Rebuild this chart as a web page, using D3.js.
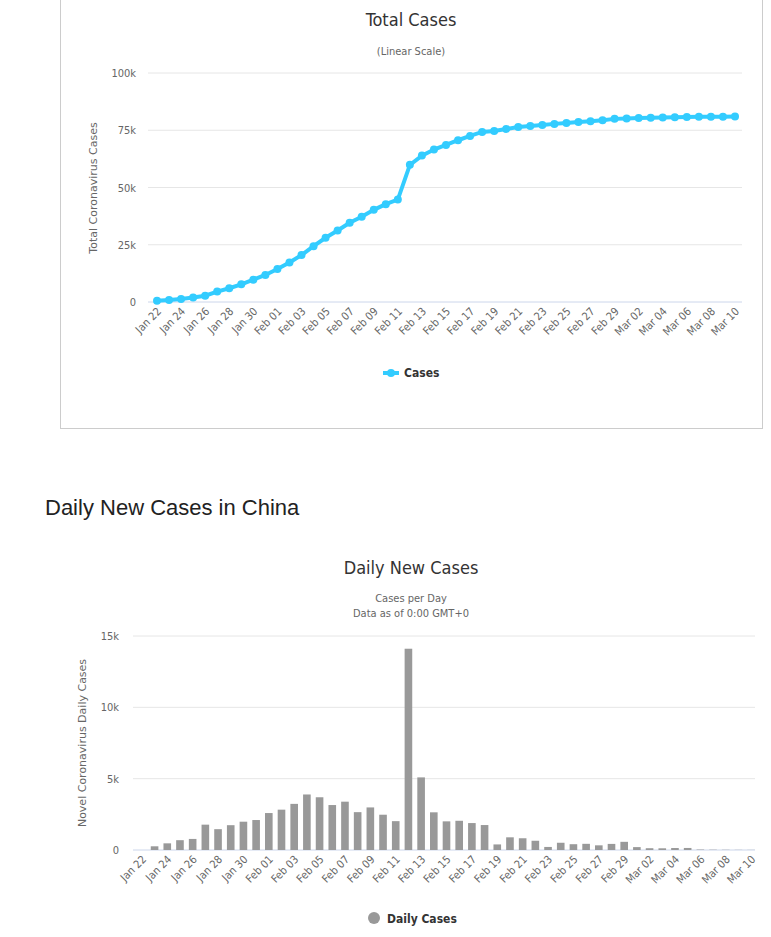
<!DOCTYPE html>
<html><head><meta charset="utf-8">
<script src="https://cdn.jsdelivr.net/npm/d3@7"></script>
<style>
body{margin:0;background:#fff;font-family:"DejaVu Sans Condensed","DejaVu Sans",sans-serif;}
</style></head><body>
<svg id="chart" width="771" height="937"></svg>
<script>
const dates = ["Jan 22","Jan 23","Jan 24","Jan 25","Jan 26","Jan 27","Jan 28","Jan 29","Jan 30","Jan 31",
"Feb 01","Feb 02","Feb 03","Feb 04","Feb 05","Feb 06","Feb 07","Feb 08","Feb 09","Feb 10","Feb 11","Feb 12","Feb 13","Feb 14","Feb 15","Feb 16","Feb 17","Feb 18","Feb 19","Feb 20","Feb 21","Feb 22","Feb 23","Feb 24","Feb 25","Feb 26","Feb 27","Feb 28","Feb 29",
"Mar 01","Mar 02","Mar 03","Mar 04","Mar 05","Mar 06","Mar 07","Mar 08","Mar 09","Mar 10"];
const totalCases = [571,830,1297,1985,2761,4537,5997,7736,9720,11821,14411,17238,20471,24363,28060,31211,34598,37251,40235,42708,44730,59882,63932,66576,68584,70635,72528,74279,74675,75569,76392,76846,77262,77780,78191,78630,78959,79389,79968,80174,80302,80422,80565,80710,80813,80859,80904,80924,80955];
const dailyCases = [0,259,467,688,776,1776,1460,1739,1984,2101,2590,2827,3233,3892,3697,3151,3387,2653,2984,2473,2022,14108,5090,2641,2008,2048,1888,1749,391,889,823,648,214,508,406,433,327,427,573,202,125,119,139,143,30,20,15,10,8];
const totalTicks = [0,25000,50000,75000,100000];
const dailyTicks = [0,5000,10000,15000];

const svg = d3.select("#chart");
const kfmt = v => v === 0 ? "0" : (v/1000) + "k";
const tickDates = dates.filter((d,i) => i % 2 === 0);

function xLabels(g, scale, y, offset) {
  g.selectAll(".xl").data(tickDates).enter().append("text")
    .attr("transform", d => `translate(${scale(d) + offset + 5},${y}) rotate(-45)`)
    .attr("text-anchor", "end").attr("font-size", 11).attr("fill", "#666").text(d => d);
}

// ---- Top chart: total cases
svg.append("rect").attr("x", 60.5).attr("y", -1).attr("width", 702).attr("height", 429.5)
  .attr("fill", "none").attr("stroke", "#ccc");
const topG = svg.append("g");
const x1 = d3.scalePoint().domain(dates).range([157, 735]);
const y1 = d3.scaleLinear().domain([0, 100000]).range([302, 73]);
topG.selectAll(".g").data(totalTicks).enter().append("line")
  .attr("x1", 148).attr("x2", 742).attr("y1", d => y1(d)).attr("y2", d => y1(d))
  .attr("stroke", d => d === 0 ? "#ccd6eb" : "#e6e6e6");
topG.selectAll(".yl").data(totalTicks).enter().append("text")
  .attr("x", 136).attr("y", d => y1(d) + 4).attr("text-anchor", "end")
  .attr("font-size", 11).attr("fill", "#666").text(kfmt);
topG.append("text").attr("x", 411).attr("y", 26).attr("text-anchor", "middle")
  .attr("font-size", 18).attr("fill", "#333").text("Total Cases");
topG.append("text").attr("x", 411).attr("y", 55).attr("text-anchor", "middle")
  .attr("font-size", 11).attr("fill", "#666").text("(Linear Scale)");
topG.append("text").attr("transform", "translate(97,188) rotate(-90)").attr("text-anchor", "middle")
  .attr("font-size", 11).attr("fill", "#666").attr("font-family", "DejaVu Sans").text("Total Coronavirus Cases");
xLabels(topG, x1, 312, 0);
topG.append("path").datum(totalCases)
  .attr("d", d3.line().x((d,i) => x1(dates[i])).y(d => y1(d)))
  .attr("fill", "none").attr("stroke", "#33ccff").attr("stroke-width", 4);
topG.selectAll(".pt").data(totalCases).enter().append("circle")
  .attr("cx", (d,i) => x1(dates[i])).attr("cy", d => y1(d)).attr("r", 4).attr("fill", "#33ccff");
topG.append("line").attr("x1", 383).attr("x2", 399).attr("y1", 373).attr("y2", 373)
  .attr("stroke", "#33ccff").attr("stroke-width", 4);
topG.append("circle").attr("cx", 391).attr("cy", 373).attr("r", 4).attr("fill", "#33ccff");
topG.append("text").attr("x", 404).attr("y", 377).attr("font-size", 12).attr("font-weight", "bold")
  .attr("fill", "#333").text("Cases");

// ---- Heading
svg.append("text").attr("x", 45).attr("y", 515).attr("font-family", "Liberation Sans, Arial")
  .attr("font-size", 22).attr("fill", "#222").text("Daily New Cases in China");

// ---- Bottom chart: daily cases
const botG = svg.append("g");
const x2 = d3.scaleBand().domain(dates).range([133, 760]).padding(0.4);
const y2 = d3.scaleLinear().domain([0, 15000]).range([850, 636]);
botG.selectAll(".g").data(dailyTicks).enter().append("line")
  .attr("x1", 133).attr("x2", 755).attr("y1", d => y2(d)).attr("y2", d => y2(d))
  .attr("stroke", d => d === 0 ? "#ccd6eb" : "#e6e6e6");
botG.selectAll(".yl").data(dailyTicks).enter().append("text")
  .attr("x", 119).attr("y", d => y2(d) + 4).attr("text-anchor", "end")
  .attr("font-size", 11).attr("fill", "#666").text(kfmt);
botG.append("text").attr("x", 411).attr("y", 574).attr("text-anchor", "middle")
  .attr("font-size", 18).attr("fill", "#333").text("Daily New Cases");
botG.append("text").attr("x", 411).attr("y", 602).attr("text-anchor", "middle")
  .attr("font-size", 11).attr("fill", "#666").text("Cases per Day");
botG.append("text").attr("x", 411).attr("y", 617).attr("text-anchor", "middle")
  .attr("font-size", 11).attr("fill", "#666").text("Data as of 0:00 GMT+0");
botG.append("text").attr("transform", "translate(86,743) rotate(-90)").attr("text-anchor", "middle")
  .attr("font-size", 11).attr("fill", "#666").attr("font-family", "DejaVu Sans").text("Novel Coronavirus Daily Cases");
botG.selectAll(".bar").data(dailyCases).enter().append("rect")
  .attr("x", (d,i) => x2(dates[i])).attr("width", x2.bandwidth())
  .attr("y", d => y2(d)).attr("height", d => y2(0) - y2(d)).attr("fill", "#999");
xLabels(botG, x2, 860, x2.bandwidth() / 2);
botG.append("circle").attr("cx", 374).attr("cy", 918).attr("r", 6).attr("fill", "#999");
botG.append("text").attr("x", 387).attr("y", 923).attr("font-size", 12).attr("font-weight", "bold")
  .attr("fill", "#333").text("Daily Cases");
</script>
</body></html>
